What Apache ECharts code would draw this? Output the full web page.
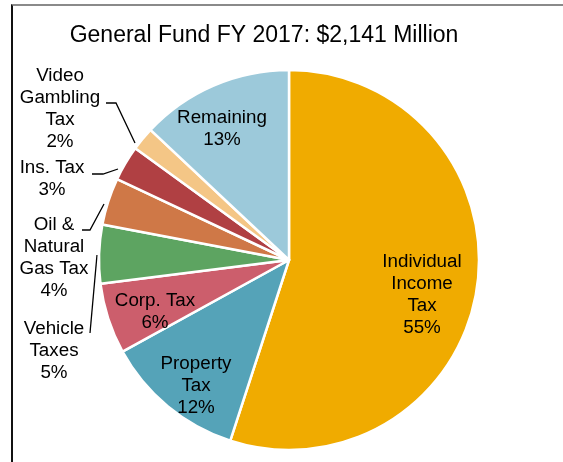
<!DOCTYPE html>
<html>
<head>
<meta charset="utf-8">
<script src="https://cdn.jsdelivr.net/npm/echarts@6/dist/echarts.min.js"></script>
<style>
  html, body { margin: 0; padding: 0; background: #fff; }
  #frame { position: absolute; left: 11px; top: 4px; width: 560px; height: 470px;
           border-left: 2px solid #111; border-top: 2px solid #8a8a8a; box-sizing: border-box; }
  #chart { position: absolute; left: 0; top: 0; width: 563px; height: 462px; }
</style>
</head>
<body>
<div id="frame"></div>
<div id="chart"></div>
<script>
const title = 'General Fund FY 2017: $2,141 Million';
const categories = ['Individual Income Tax', 'Property Tax', 'Corp. Tax', 'Vehicle Taxes',
                    'Oil & Natural Gas Tax', 'Ins. Tax', 'Video Gambling Tax', 'Remaining'];
const labelTexts = ['Individual\nIncome\nTax', 'Property\nTax', 'Corp. Tax', 'Vehicle\nTaxes',
                    'Oil &\nNatural\nGas Tax', 'Ins. Tax', 'Video\nGambling\nTax', 'Remaining'];
const shares = [55, 12, 6, 5, 4, 3, 2, 13];
const colors = ['#F0AB00', '#55A3B8', '#CC5E6C', '#5DA461', '#CF7847', '#B04043', '#F4C686', '#9CC9DA'];
const outside = [false, false, false, true, true, true, true, false];

// label placement (layout only)
const labelPos = [[422, 295], [196, 386], [155, 312], [54, 351], [54, 258], [52, 179], [60, 109], [222, 129]];
const linePts = [null, null, null,
  [[97, 255], [90, 333]],
  [[104, 204], [90, 230], [82, 230]],
  [[118, 169], [103, 174], [92, 174]],
  [[135, 143], [116, 103], [106, 103]],
  null];

const chart = echarts.init(document.getElementById('chart'));
const data = categories.map((c, i) => ({
  name: c,
  value: shares[i],
  itemStyle: { color: colors[i] },
  label: { position: outside[i] ? 'outside' : 'inside' },
  labelLine: { show: outside[i] }
}));

chart.setOption({
  animation: false,
  title: {
    text: title,
    left: 259, top: 19, textAlign: 'center',
    textStyle: { fontFamily: 'Liberation Sans, Arial, sans-serif', fontSize: 23, fontWeight: 'normal', color: '#000' }
  },
  series: [{
    type: 'pie',
    center: [289, 260],
    radius: [0, 190],
    startAngle: 90,
    clockwise: true,
    avoidLabelOverlap: false,
    itemStyle: { borderColor: '#fff', borderWidth: 2.5 },
    label: {
      show: true,
      formatter: p => labelTexts[p.dataIndex] + '\n' + p.value + '%',
      fontFamily: 'Liberation Sans, Arial, sans-serif',
      fontSize: 18.8,
      lineHeight: 22,
      color: '#000',
      align: 'center'
    },
    labelLine: { show: true, lineStyle: { color: '#000', width: 1.3 }, length: 10, length2: 10 },
    labelLayout: function (p) {
      const i = p.dataIndex;
      const o = { x: labelPos[i][0], y: labelPos[i][1], align: 'center', verticalAlign: 'middle' };
      if (linePts[i]) o.labelLinePoints = linePts[i];
      return o;
    },
    emphasis: { disabled: true },
    data: data
  }]
});
</script>
</body>
</html>
